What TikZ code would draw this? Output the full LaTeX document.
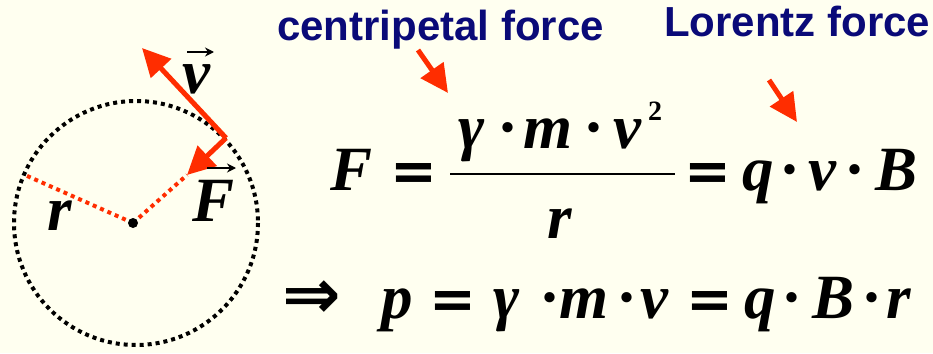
\documentclass[tikz,border=0pt]{standalone}
\usepackage{fontspec}
\setmainfont{Liberation Serif}
\newfontfamily\labfont{Liberation Sans}
\newfontfamily\arrfont{DejaVu Sans}
\usetikzlibrary{arrows.meta}
\definecolor{bgyellow}{RGB}{255,255,240}
\definecolor{arrred}{RGB}{255,45,0}
\definecolor{navyblue}{RGB}{10,10,120}
\begin{document}
\begin{tikzpicture}[x=1pt,y=-1pt,
  eq/.style={anchor=base,inner sep=0pt,font=\fontsize{63}{63}\selectfont\bfseries\itshape},
  eqop/.style={anchor=base,inner sep=0pt,font=\fontsize{56}{56}\selectfont\arrfont\bfseries},
  eqdot/.style={anchor=base,inner sep=0pt,font=\fontsize{63}{63}\selectfont\bfseries},
  eqsup/.style={anchor=base,inner sep=0pt,font=\fontsize{28}{28}\selectfont\bfseries},
  lab/.style={anchor=base west,inner sep=0pt,text=navyblue,font=\fontsize{42}{42}\selectfont\labfont\bfseries},
  redarrow/.style={draw=arrred,line width=5pt,-{Triangle[length=28pt,width=27pt]}},
  vecarrow/.style={draw=black,line width=1.8pt,-{Stealth[length=9pt,width=9pt]}},
  blackdots/.style={draw=black,line width=4pt,dash pattern=on 4pt off 4pt},
  reddots/.style={draw=arrred,line width=4pt,dash pattern=on 4pt off 4pt}]
\fill[bgyellow] (0,0) rectangle (933,353);
\useasboundingbox (0,0) rectangle (933,353);
% circle
\draw[blackdots] (136,223) circle[radius=122];
\coordinate (c0) at (133,223);
\coordinate (rl) at (25,175);
\coordinate (fr) at (187,175);
\coordinate (pt) at (226,138);
\coordinate (vt) at (142,48);
\draw[reddots] (c0) -- (rl);
\draw[reddots] (c0) -- (fr);
\node[circle,fill=black,inner sep=0pt,minimum size=10pt] (ctr) at (c0) {};
\draw[redarrow] (pt) -- (vt);
\draw[redarrow] (pt) -- (fr);
% vector labels
\node[eq] (vlab) at (196,93) {v};
\coordinate (va1) at (187,52);
\coordinate (va2) at (214,52);
\draw[vecarrow] (va1) -- (va2);
\node[eq] (Flab) at (214,221) {F};
\coordinate (fa1) at (207,168);
\coordinate (fa2) at (236,168);
\draw[vecarrow] (fa1) -- (fa2);
\node[eq] (rlab) at (60,230) {r};
% labels
\node[lab] (cent) at (277,41) {centripetal force};
\node[lab] (lor) at (664,37) {Lorentz force};
\coordinate (c1) at (418,50);
\coordinate (c2) at (448,93);
\draw[redarrow] (c1) -- (c2);
\coordinate (l1) at (769,80);
\coordinate (l2) at (797,122);
\draw[redarrow] (l1) -- (l2);
% first equation
\node[eq] (eF) at (352,190) {F};
\node[eqop] (eq1) at (414,190) {=};
\coordinate (b1) at (450,174);
\coordinate (b2) at (675,174);
\draw[line width=2.5pt] (b1) -- (b2);
\node[eq] (ng) at (472,148) {γ};
\node[eqdot] (nd1) at (508,148) {·};
\node[eq] (nm) at (548,148) {m};
\node[eqdot] (nd2) at (594,148) {·};
\node[eq] (nv) at (627,148) {v};
\node[eqsup] (n2) at (655,120) {2};
\node[eq] (dr) at (560,238) {r};
\node[eqop] (eq2) at (708,190) {=};
\node[eq] (e1q) at (758,190) {q};
\node[eqdot] (e1d1) at (790,190) {·};
\node[eq] (e1v) at (822,190) {v};
\node[eqdot] (e1d2) at (855,190) {·};
\node[eq] (e1B) at (896,190) {B};
% second equation
\node[anchor=base,inner sep=0pt,font=\fontsize{70}{70}\selectfont\arrfont\bfseries] (impl) at (312,318) {⇒};
\node[eq] (e2p) at (397,318) {p};
\node[eqop] (e2eq1) at (453,318) {=};
\node[eq] (e2g) at (507,318) {γ};
\node[eqdot] (e2d1) at (550,318) {·};
\node[eq] (e2m) at (584,318) {m};
\node[eqdot] (e2d2) at (627,318) {·};
\node[eq] (e2v) at (654,318) {v};
\node[eqop] (e2eq2) at (710,318) {=};
\node[eq] (e2q) at (760,318) {q};
\node[eqdot] (e2d3) at (792,318) {·};
\node[eq] (e2B) at (833,318) {B};
\node[eqdot] (e2d4) at (872,318) {·};
\node[eq] (e2r) at (899,318) {r};
\end{tikzpicture}
\end{document}
